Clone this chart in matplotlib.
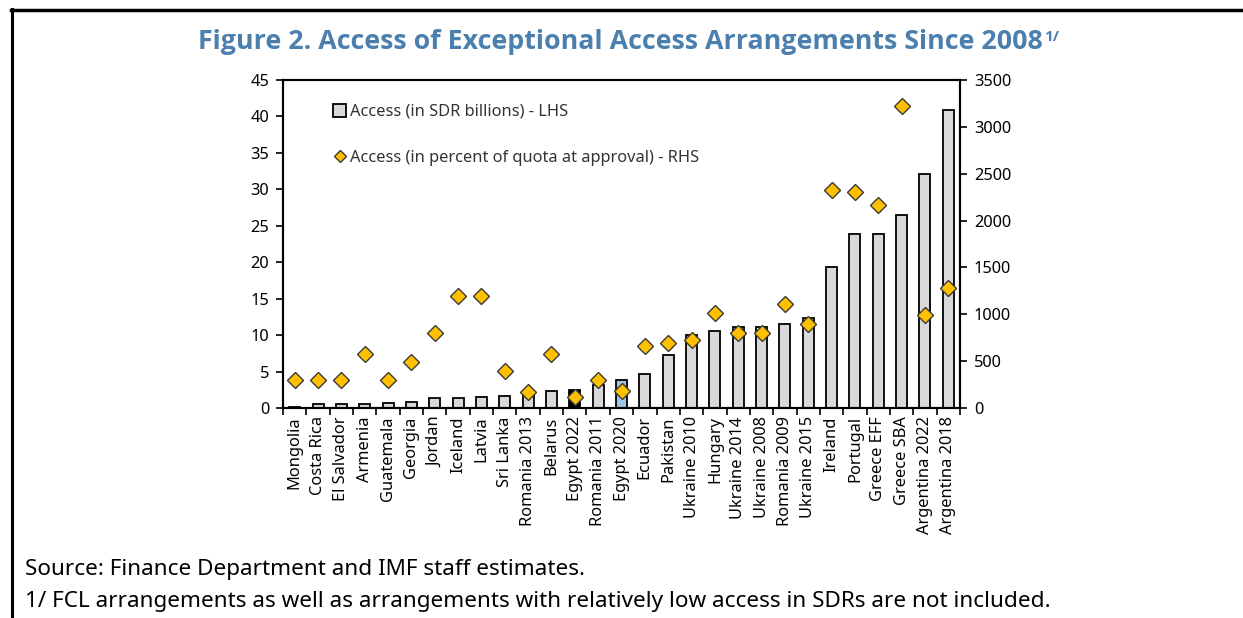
import matplotlib
matplotlib.use("Agg")
import matplotlib.pyplot as plt
import numpy as np
from matplotlib.patches import Patch
from matplotlib.lines import Line2D

plt.rcParams['font.family'] = ['Noto Sans', 'DejaVu Sans']

categories = ["Mongolia", "Costa Rica", "El Salvador", "Armenia", "Guatemala", "Georgia",
              "Jordan", "Iceland", "Latvia", "Sri Lanka", "Romania 2013", "Belarus",
              "Egypt 2022", "Romania 2011", "Egypt 2020", "Ecuador", "Pakistan",
              "Ukraine 2010", "Hungary", "Ukraine 2014", "Ukraine 2008", "Romania 2009",
              "Ukraine 2015", "Ireland", "Portugal", "Greece EFF", "Greece SBA",
              "Argentina 2022", "Argentina 2018"]
access_sdr_bn = [0.15, 0.5, 0.5, 0.5, 0.64, 0.78, 1.38, 1.38, 1.51, 1.65, 1.83, 2.29,
                 2.48, 3.17, 3.8, 4.63, 7.24, 10.0, 10.6, 11.05, 11.05, 11.5,
                 12.33, 19.4, 23.85, 23.85, 26.45, 32.07, 40.84]
access_pct_quota = [300, 300, 300, 580, 300, 490, 805, 1190, 1200, 395, 167, 580,
                    114, 302, 185, 658, 697, 728, 1019, 800, 800, 1112,
                    900, 2327, 2306, 2164, 3226, 995, 1279]
bar_colors = ["#D9D9D9"] * len(categories)
bar_colors[categories.index("Egypt 2022")] = "#000000"
bar_colors[categories.index("Egypt 2020")] = "#9DC3E6"

left_ticks = list(range(0, 46, 5))
right_ticks = list(range(0, 3501, 500))

W, H = 1243, 618
fig = plt.figure(figsize=(W / 100, H / 100), dpi=100)
ax = fig.add_axes([283 / W, 1 - 408 / H, (960 - 283) / W, (408 - 80) / H])
ax2 = ax.twinx()

x = np.arange(len(categories))
ax.bar(x, access_sdr_bn, width=0.47, color=bar_colors, edgecolor="black", linewidth=1.3, zorder=2)
ax2.plot(x, access_pct_quota, linestyle="none", marker="D", markersize=8,
         markerfacecolor="#FFC000", markeredgecolor="#3a3a3a", markeredgewidth=1.0, zorder=3)

ax.set_xlim(-0.5, len(categories) - 0.5)
ax.set_ylim(0, 45)
ax2.set_ylim(0, 3500)
ax.set_yticks(left_ticks)
ax2.set_yticks(right_ticks)
ax.set_xticks(x)
ax.set_xticklabels(categories, rotation=90, fontsize=11.8)
ax.tick_params(axis='x', which='major', length=0, pad=6)
ax.set_xticks(np.arange(-0.5, len(categories), 1), minor=True)
ax.tick_params(axis='x', which='minor', length=5, width=1.2, direction='out')
ax.tick_params(axis='y', labelsize=11.8, length=5, width=1.2, direction='out', pad=5)
ax2.tick_params(axis='y', labelsize=11.8, length=5, width=1.2, direction='out', pad=5)
for a in (ax, ax2):
    for s in a.spines.values():
        s.set_linewidth(1.5)
        s.set_color("black")

handles = [Patch(facecolor="#D9D9D9", edgecolor="black", linewidth=1.3),
           Line2D([], [], linestyle="none", marker="D", markersize=6,
                  markerfacecolor="#FFC000", markeredgecolor="#3a3a3a", markeredgewidth=1.0)]
labels = ["Access (in SDR billions) - LHS", "Access (in percent of quota at approval) - RHS"]
leg = ax2.legend(handles, labels, loc="upper left", bbox_to_anchor=(0.052, 0.972), frameon=False,
                 fontsize=11.8, labelspacing=1.85, handlelength=0.8, handleheight=0.8,
                 handletextpad=0.25, labelcolor="#333333")

title = fig.text(620 / W, 1 - 42 / H, "Figure 2. Access of Exceptional Access Arrangements Since 2008",
                 ha="center", va="center", fontsize=19.3, fontweight="bold", color="#4A7FAE",
                 family=["Open Sans", "DejaVu Sans"])
fig.canvas.draw()
bb = title.get_window_extent()
fig.text((bb.x1 + 2) / W, (bb.y1 - 1) / H, "1/", ha="left", va="top", fontsize=11,
         fontweight="bold", color="#4A7FAE", family=["Open Sans", "DejaVu Sans"])

fig.text(25 / W, 1 - 570 / H, "Source: Finance Department and IMF staff estimates.",
         ha="left", va="center", fontsize=16.2, color="black")
fig.text(25 / W, 1 - 601 / H, "1/ FCL arrangements as well as arrangements with relatively low access in SDRs are not included.",
         ha="left", va="center", fontsize=16.2, color="black")

# frame
fig.add_artist(Line2D([12 / W, 12 / W], [0, 1 - 9 / H], color="black", linewidth=2.2))
fig.add_artist(Line2D([11 / W, 1], [1 - 10 / H, 1 - 10 / H], color="black", linewidth=2.5))

fig.savefig("out.png", dpi=100)
